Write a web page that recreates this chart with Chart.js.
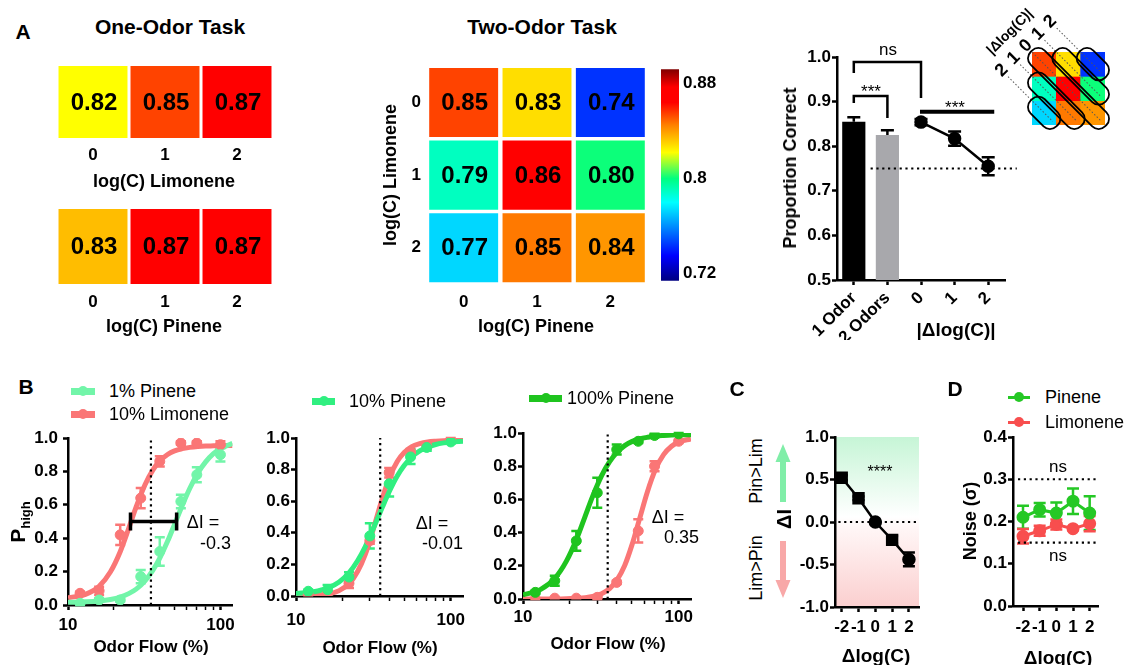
<!DOCTYPE html>
<html>
<head>
<meta charset="utf-8">
<script src="https://cdn.jsdelivr.net/npm/chart.js@4.4.1/dist/chart.umd.min.js"></script>
<style>
  body { margin: 0; background: #fff; }
  #fig { position: relative; width: 1125px; height: 665px; overflow: hidden; background: #fff;
         font-family: 'Liberation Sans', Arial, Helvetica, sans-serif; color: #000; }
  #fig canvas { position: absolute; }
  .t { position: absolute; white-space: nowrap; line-height: 1; transform: translate(-50%, -50%); }
  .b { font-weight: bold; }
  .r90 { transform: translate(-50%, -50%) rotate(-90deg); }
  .ra { transform: translate(-100%, -50%); }
  .la { transform: translate(0, -50%); }
  .key { position: absolute; }
</style>
</head>
<body>
<div id="fig">
  <canvas id="hmLim" width="250" height="120" style="left:40px;top:56px"></canvas>
  <canvas id="hmPin" width="250" height="126" style="left:40px;top:199px"></canvas>
  <canvas id="hmTwo" width="270" height="275" style="left:380px;top:50px"></canvas>
  <canvas id="cbar" width="70" height="240" style="left:655px;top:55px"></canvas>
  <canvas id="pc" width="290" height="305" style="left:735px;top:35px"></canvas>
  <canvas id="inset" width="125" height="135" style="left:985px;top:0px"></canvas>
  <canvas id="b1" width="245" height="245" style="left:0px;top:420px"></canvas>
  <canvas id="b2" width="235" height="245" style="left:240px;top:420px"></canvas>
  <canvas id="b3" width="235" height="250" style="left:470px;top:415px"></canvas>
  <canvas id="cPanel" width="135" height="246" style="left:795px;top:419px"></canvas>
  <canvas id="dPanel" width="135" height="246" style="left:975px;top:419px"></canvas>

  <!-- panel A text -->
  <div class="t b" style="left:23px;top:31px;font-size:21px">A</div>
  <div class="t b" style="left:170px;top:26px;font-size:21px">One-Odor Task</div>
  <div class="t b" style="left:542px;top:26px;font-size:21px">Two-Odor Task</div>
  <div class="t b" style="left:164px;top:181px;font-size:18px">log(C) Limonene</div>
  <div class="t b" style="left:164px;top:326px;font-size:18px">log(C) Pinene</div>
  <div class="t b r90" style="left:390px;top:175px;font-size:18px">log(C) Limonene</div>
  <div class="t b" style="left:536px;top:326px;font-size:18px">log(C) Pinene</div>
  <div class="t b r90" style="left:790px;top:168px;font-size:18px">Proportion Correct</div>
  <div class="t b" style="left:956px;top:329px;font-size:19px">|Δlog(C)|</div>
  <div class="t" style="left:888px;top:49px;font-size:17px">ns</div>
  <div class="t" style="left:871px;top:91px;font-size:17px">***</div>
  <div class="t" style="left:955px;top:107px;font-size:17px">***</div>

  <!-- panel B text -->
  <div class="t b" style="left:26px;top:386px;font-size:21px">B</div>
  <div class="t la" style="left:109px;top:391px;font-size:18px">1% Pinene</div>
  <div class="t la" style="left:109px;top:414px;font-size:18px">10% Limonene</div>
  <div class="t la" style="left:349px;top:401px;font-size:18px">10% Pinene</div>
  <div class="t la" style="left:567px;top:398px;font-size:18px">100% Pinene</div>
  <div class="t b r90" style="left:17px;top:522px;font-size:21px">P<span style="font-size:13px;position:relative;top:5px">high</span></div>
  <div class="t b" style="left:151px;top:646px;font-size:17px">Odor Flow (%)</div>
  <div class="t b" style="left:380px;top:647px;font-size:17px">Odor Flow (%)</div>
  <div class="t b" style="left:608px;top:643px;font-size:17px">Odor Flow (%)</div>
  <div class="t" style="left:203px;top:522px;font-size:18px">ΔI =</div>
  <div class="t ra" style="left:231px;top:543px;font-size:18px">-0.3</div>
  <div class="t" style="left:432px;top:523px;font-size:18px">ΔI =</div>
  <div class="t ra" style="left:463px;top:543px;font-size:18px">-0.01</div>
  <div class="t" style="left:668px;top:517px;font-size:18px">ΔI =</div>
  <div class="t ra" style="left:699px;top:537px;font-size:18px">0.35</div>

  <!-- panel C text -->
  <div class="t b" style="left:737px;top:388px;font-size:21px">C</div>
  <div class="t r90" style="left:756px;top:471px;font-size:18px">Pin&gt;Lim</div>
  <div class="t r90" style="left:756px;top:568px;font-size:18px">Lim&gt;Pin</div>
  <div class="t b r90" style="left:784px;top:519px;font-size:20px">ΔI</div>
  <div class="t" style="left:880px;top:472px;font-size:16px">****</div>
  <div class="t b" style="left:876px;top:655px;font-size:19px">Δlog(C)</div>
  <svg style="position:absolute;left:770px;top:440px" width="30" height="162">
    <polygon points="5.5,22 20.5,22 13,4" fill="#80eea8"/>
    <rect x="10" y="22" width="6" height="40" fill="#80eea8"/>
    <rect x="10" y="101" width="6" height="39" fill="#f8a8a8"/>
    <polygon points="5.5,140 20.5,140 13,158" fill="#f8a8a8"/>
  </svg>

  <!-- panel D text -->
  <div class="t b" style="left:955px;top:388px;font-size:21px">D</div>
  <div class="t la" style="left:1045px;top:397px;font-size:18px">Pinene</div>
  <div class="t la" style="left:1045px;top:422px;font-size:18px">Limonene</div>
  <div class="t b r90" style="left:970px;top:521px;font-size:18px">Noise (σ)</div>
  <div class="t" style="left:1058px;top:466px;font-size:17px">ns</div>
  <div class="t" style="left:1058px;top:555px;font-size:17px">ns</div>
  <div class="t b" style="left:1058px;top:657px;font-size:19px">Δlog(C)</div>
</div>

<script>
// ── A: heat maps (proportion correct per concentration) ──────────────────
var concLabels = ['0', '1', '2'];
var oneOdorLim = [0.822, 0.854, 0.868];
var oneOdorPin = [0.834, 0.869, 0.867];
var twoOdorRow0 = [0.854, 0.828, 0.744];   // log(C) limonene 0, pinene 0..2
var twoOdorRow1 = [0.790, 0.864, 0.801];   // log(C) limonene 1
var twoOdorRow2 = [0.773, 0.846, 0.841];   // log(C) limonene 2
var cbarMin = 0.714, cbarMax = 0.892;
var cbarTicks = [0.72, 0.8, 0.88];
var diagLabels = ['2', '1', '0', '1', '2'];

// ── A: proportion correct bars / |Δlog(C)| ───────────────────────────────
var pcLabels = ['1 Odor', '2 Odors', '0', '1', '2'];
var pcBarMean = [0.855, 0.825];
var pcBarSem = [0.010, 0.011];
var pcDiffMean = [0.854, 0.817, 0.755];
var pcDiffSem = [0.007, 0.016, 0.020];
var pcTicks = [0.5, 0.6, 0.7, 0.8, 0.9, 1.0];
var chanceLevel = 0.75;

// ── B: psychometric curves ───────────────────────────────────────────────
var flowLevels = [12, 16, 22, 30, 40, 55, 70, 100];
var fitFlow = [10, 13, 16, 19, 22, 25, 28, 32, 36, 40, 45, 50, 56, 63, 71, 80, 90, 100, 120];
var flowTicks = [10, 20, 30, 40, 50, 60, 70, 80, 90, 100];
var flowLabelled = [10, 100];
var pTicks = [0, 0.2, 0.4, 0.6, 0.8, 1.0];
var refFlow = 35;

var b1PinMean = [0.01, 0.03, 0.03, 0.17, 0.32, 0.62, 0.78, 0.90];
var b1PinSem  = [0.01, 0.01, 0.01, 0.04, 0.085, 0.04, 0.045, 0.04];
var b1PinFit  = [0.016, 0.019, 0.024, 0.033, 0.047, 0.068, 0.095, 0.145, 0.207, 0.281, 0.381, 0.483, 0.593, 0.699, 0.789, 0.857, 0.906, 0.936, 0.968];
var b1LimMean = [0.07, 0.085, 0.42, 0.64, 0.86, 0.97, 0.97, 0.96];
var b1LimSem  = [0.01, 0.025, 0.06, 0.06, 0.03, 0.01, 0.01, 0.02];
var b1LimFit  = [0.043, 0.064, 0.112, 0.199, 0.319, 0.458, 0.587, 0.720, 0.808, 0.862, 0.901, 0.923, 0.936, 0.944, 0.949, 0.952, 0.953, 0.954, 0.955];
var b1HalfPoints = [25.7, 51.6];
var halfLevel = 0.5;

var b2PinMean = [0.03, 0.04, 0.12, 0.38, 0.71, 0.88, 0.94, 0.975];
var b2PinSem  = [0.01, 0.03, 0.03, 0.08, 0.08, 0.045, 0.02, 0.01];
var b2PinFit  = [0.016, 0.027, 0.050, 0.089, 0.146, 0.223, 0.311, 0.440, 0.558, 0.660, 0.758, 0.826, 0.880, 0.918, 0.943, 0.959, 0.969, 0.975, 0.980];
var b2LimMean = [0.01, 0.02, 0.08, 0.35, 0.78, 0.91, 0.95, 0.99];
var b2LimSem  = [0.005, 0.01, 0.03, 0.02, 0.03, 0.02, 0.02, 0.01];
var b2LimFit  = [0.001, 0.004, 0.012, 0.034, 0.077, 0.155, 0.262, 0.442, 0.613, 0.746, 0.850, 0.908, 0.945, 0.964, 0.975, 0.980, 0.983, 0.984, 0.985];

var b3PinMean = [0.04, 0.11, 0.35, 0.64, 0.90, 0.95, 0.985, 0.995];
var b3PinSem  = [0.01, 0.03, 0.06, 0.09, 0.03, 0.01, 0.01, 0.005];
var b3PinFit  = [0.025, 0.058, 0.124, 0.228, 0.357, 0.495, 0.618, 0.743, 0.827, 0.882, 0.924, 0.948, 0.964, 0.974, 0.981, 0.985, 0.988, 0.989, 0.990];
var b3LimMean = [0.0, 0.005, 0.005, 0.01, 0.10, 0.41, 0.80, 0.95];
var b3LimSem  = [0.0, 0.0, 0.0, 0.01, 0.01, 0.07, 0.03, 0.01];
var b3LimFit  = [0.000, 0.000, 0.000, 0.001, 0.004, 0.008, 0.015, 0.032, 0.062, 0.112, 0.202, 0.323, 0.481, 0.646, 0.781, 0.870, 0.920, 0.945, 0.965];

// ── C: ΔI vs Δlog(C) ─────────────────────────────────────────────────────
var deltaLog = [-2, -1, 0, 1, 2];
var deltaI = [0.52, 0.28, 0.0, -0.21, -0.44];
var deltaISem = [0.03, 0.02, 0.01, 0.045, 0.08];
var deltaITicks = [-1, -0.5, 0, 0.5, 1];

// ── D: noise ─────────────────────────────────────────────────────────────
var noisePin = [0.21, 0.228, 0.22, 0.248, 0.22];
var noisePinSem = [0.027, 0.016, 0.025, 0.03, 0.04];
var noiseLim = [0.165, 0.178, 0.193, 0.183, 0.195];
var noiseLimSem = [0.017, 0.012, 0.012, 0.004, 0.018];
var noiseTicks = [0, 0.1, 0.2, 0.3, 0.4];
var noiseRefs = [0.3, 0.15];

// colours
var colPin1 = '#72f5a9', colLim = '#fa7676', colPin10 = '#30ef80', colPin100 = '#1fc41f';
var colPinD = '#25c825', colLimD = '#f84e4e';
var cmapStops = [
  [0.714, [0, 0, 128]], [0.735, [0, 0, 255]], [0.780, [0, 255, 255]], [0.800, [0, 255, 128]],
  [0.822, [255, 255, 0]], [0.845, [255, 128, 0]], [0.864, [255, 0, 0]], [0.877, [255, 0, 0]],
  [0.892, [128, 0, 0]]
];

var FONT = "'Liberation Sans', Arial, Helvetica, sans-serif";
var TICK_FONT = { size: 17, weight: 'bold' };
Chart.defaults.font.family = FONT;
Chart.defaults.color = '#000';
Chart.defaults.responsive = false;
Chart.defaults.animation = false;
Chart.defaults.events = [];
Chart.defaults.plugins.legend.display = false;
Chart.defaults.plugins.tooltip.enabled = false;

function rgb(c) { return 'rgb(' + Math.round(c[0]) + ',' + Math.round(c[1]) + ',' + Math.round(c[2]) + ')'; }
function cmap(v) {
  var s = cmapStops;
  if (v <= s[0][0]) return rgb(s[0][1]);
  for (var i = 1; i < s.length; i++) {
    if (v <= s[i][0]) {
      var f = (v - s[i - 1][0]) / (s[i][0] - s[i - 1][0]), a = s[i - 1][1], b = s[i][1];
      return rgb([a[0] + (b[0] - a[0]) * f, a[1] + (b[1] - a[1]) * f, a[2] + (b[2] - a[2]) * f]);
    }
  }
  return rgb(s[s.length - 1][1]);
}

// axis builder: GraphPad-style (line + outward ticks) or bare (labels only)
function axis(o) {
  return {
    type: o.type || 'linear',
    position: o.position,
    min: o.min, max: o.max, reverse: !!o.reverse,
    afterBuildTicks: function(s) { if (o.values) s.ticks = o.values.map(function(v) { return { value: v }; }); },
    afterFit: function(s) { if (o.width) s.width = o.width; if (o.height) s.height = o.height; },
    grid: o.bare ? { display: false, drawTicks: false } : {
      drawOnChartArea: false, offset: false, tickLength: 5, tickColor: '#000',
      tickWidth: o.minor ? function(c) { return o.minor.indexOf(c.tick.value) >= 0 ? 2.5 : 1.5; } : 2.5
    },
    border: o.bare ? { display: false } : { color: '#000', width: 2.5 },
    ticks: { color: '#000', font: TICK_FONT, padding: o.pad, autoSkip: false,
             maxRotation: o.rot || 0, minRotation: o.rot || 0, callback: o.fmt }
  };
}
function fixed1(v) { return v.toFixed(1); }

// ── plugins ──────────────────────────────────────────────────────────────
var errorBarPlugin = {
  id: 'errorBars',
  beforeDatasetsDraw: function(chart) {
    var ctx = chart.ctx;
    chart.data.datasets.forEach(function(ds, i) {
      if (!ds.errorBars) return;
      var meta = chart.getDatasetMeta(i), ys = chart.scales[meta.yAxisID];
      var cap = ds.capWidth || 10;
      ctx.save();
      ctx.strokeStyle = ds.errorColor || ds.borderColor;
      ctx.lineWidth = 2.5;
      meta.data.forEach(function(el, j) {
        var e = ds.errorBars[j], p = meta.controller.getParsed(j);
        if (e == null || !p || p.y == null || isNaN(p.y)) return;
        var top = ys.getPixelForValue(p.y + e);
        var bot = ds.errorUpOnly ? el.y : ys.getPixelForValue(p.y - e);
        ctx.beginPath();
        ctx.moveTo(el.x, top); ctx.lineTo(el.x, bot);
        ctx.moveTo(el.x - cap / 2, top); ctx.lineTo(el.x + cap / 2, top);
        if (!ds.errorUpOnly) { ctx.moveTo(el.x - cap / 2, bot); ctx.lineTo(el.x + cap / 2, bot); }
        ctx.stroke();
      });
      ctx.restore();
    });
  }
};

var refLinePlugin = {
  id: 'refLines',
  afterDatasetsDraw: function(chart, args, opts) {
    var lines = opts.lines || [];
    if (!lines.length) return;
    var ctx = chart.ctx, xs = chart.scales.x, ys = chart.scales.y, a = chart.chartArea;
    ctx.save();
    ctx.strokeStyle = '#000'; ctx.lineWidth = 2.2; ctx.setLineDash([2.2, 3.6]);
    for (var i = 0; i < lines.length; i++) {
      var l = lines[i];
      ctx.beginPath();
      if (l.axis === 'x') {
        var px = xs.getPixelForValue(l.value);
        ctx.moveTo(px, a.bottom); ctx.lineTo(px, a.top);
      } else {
        var py = ys.getPixelForValue(l.value);
        ctx.moveTo(l.from != null ? xs.getPixelForValue(l.from) : a.left, py);
        ctx.lineTo(l.to != null ? xs.getPixelForValue(l.to) : a.right, py);
      }
      ctx.stroke();
    }
    ctx.restore();
  }
};

var cellTextPlugin = {
  id: 'cellText',
  afterDatasetsDraw: function(chart) {
    var ctx = chart.ctx;
    chart.data.datasets.forEach(function(ds, i) {
      if (!ds.cellValues) return;
      var meta = chart.getDatasetMeta(i);
      ctx.save();
      ctx.fillStyle = '#000'; ctx.font = 'bold 24px ' + FONT;
      ctx.textAlign = 'center'; ctx.textBaseline = 'middle';
      meta.data.forEach(function(el, j) {
        ctx.fillText(ds.cellValues[j].toFixed(2), el.x + 1, (el.y + el.base) / 2 + 1);
      });
      ctx.restore();
    });
  }
};
Chart.register(errorBarPlugin, refLinePlugin, cellTextPlugin);

// ── A: one-odor heat maps ────────────────────────────────────────────────
function oneRowHeat(id, values, xh, pad) {
  return new Chart(document.getElementById(id), {
    type: 'bar',
    data: {
      labels: concLabels,
      datasets: [{ data: values.map(function() { return [0, 1]; }), cellValues: values,
                   backgroundColor: values.map(cmap), barPercentage: 0.958, categoryPercentage: 1 }]
    },
    options: {
      layout: { padding: { left: 17, right: 17, top: 10, bottom: 0 } },
      scales: {
        x: axis({ type: 'category', bare: true, pad: pad, height: xh, fmt: function(v) { return concLabels[v]; } }),
        y: { display: false, min: 0, max: 1 }
      }
    }
  });
}
oneRowHeat('hmLim', oneOdorLim, 38, 7);
oneRowHeat('hmPin', oneOdorPin, 41, 8);

// ── A: two-odor heat map ─────────────────────────────────────────────────
var twoRows = [twoOdorRow0, twoOdorRow1, twoOdorRow2];
new Chart(document.getElementById('hmTwo'), {
  type: 'bar',
  data: {
    labels: concLabels,
    datasets: twoRows.map(function(row, r) {
      return { data: row.map(function() { return [r - 0.476, r + 0.476]; }), cellValues: row,
               backgroundColor: row.map(cmap), barPercentage: 0.94, categoryPercentage: 1, grouped: false };
    })
  },
  options: {
    layout: { padding: { top: 14, right: 3 } },
    scales: {
      x: axis({ type: 'category', bare: true, pad: 8, height: 41, fmt: function(v) { return concLabels[v]; } }),
      y: axis({ bare: true, min: -0.5, max: 2.5, reverse: true, values: [0, 1, 2], pad: 6, width: 47,
                fmt: function(v) { return concLabels[v]; } })
    }
  }
});

// ── A: colour bar ────────────────────────────────────────────────────────
new Chart(document.getElementById('cbar'), {
  type: 'bar',
  data: {
    labels: [''],
    datasets: [{
      data: [[cbarMin, cbarMax]], barPercentage: 1, categoryPercentage: 1,
      backgroundColor: function(c) {
        var a = c.chart.chartArea;
        if (!a) return '#fff';
        var g = c.chart.ctx.createLinearGradient(0, a.bottom, 0, a.top);
        cmapStops.forEach(function(s) {
          g.addColorStop(Math.min(1, Math.max(0, (s[0] - cbarMin) / (cbarMax - cbarMin))), rgb(s[1]));
        });
        return g;
      }
    }]
  },
  options: {
    layout: { padding: { left: 6, top: 13, bottom: 11 } },
    scales: {
      x: { display: false },
      y: axis({ bare: true, position: 'right', min: cbarMin, max: cbarMax, values: cbarTicks, pad: 4, width: 46,
                fmt: function(v) { return String(v); } })
    }
  }
});

// ── A: proportion correct ────────────────────────────────────────────────
var pcBracketPlugin = {
  id: 'pcBrackets',
  afterDatasetsDraw: function(chart) {
    var x = chart.scales.x, y = chart.scales.y, ctx = chart.ctx;
    function path(pts, w) {
      ctx.lineWidth = w; ctx.beginPath();
      pts.forEach(function(p, i) {
        var px = x.getPixelForValue(p[0]), py = y.getPixelForValue(p[1]);
        if (i) ctx.lineTo(px, py); else ctx.moveTo(px, py);
      });
      ctx.stroke();
    }
    ctx.save(); ctx.strokeStyle = '#000';
    path([[0, 0.964], [0, 0.989], [2, 0.989], [2, 0.908]], 2.5);
    path([[0, 0.897], [0, 0.9125], [1, 0.9125], [1, 0.863]], 2.5);
    path([[1.97, 0.877], [4.18, 0.877]], 4);
    ctx.restore();
  }
};
new Chart(document.getElementById('pc'), {
  type: 'bar',
  data: {
    labels: pcLabels,
    datasets: [
      { type: 'line', data: [null, null].concat(pcDiffMean), borderColor: '#000', borderWidth: 2.5,
        pointRadius: 5.5, pointBackgroundColor: '#000', pointBorderColor: '#000',
        errorBars: [null, null].concat(pcDiffSem), errorColor: '#000', capWidth: 13 },
      { type: 'bar', data: pcBarMean.map(function(m) { return [pcTicks[0], m]; }),
        backgroundColor: ['#000000', '#a8a8ac'], barPercentage: 0.69, categoryPercentage: 1,
        errorBars: pcBarSem, errorUpOnly: true, errorColor: '#000', capWidth: 13 }
    ]
  },
  options: {
    layout: { padding: { top: 22, right: 20 } },
    scales: {
      x: axis({ type: 'category', rot: 45, pad: 3, height: 60, fmt: function(v) { return pcLabels[v]; } }),
      y: axis({ min: 0.5, max: 1.0, values: pcTicks, fmt: fixed1, pad: 1, width: 102 })
    },
    plugins: { refLines: { lines: [{ axis: 'y', value: chanceLevel, from: 0.5, to: 4.85 }] } }
  },
  plugins: [pcBracketPlugin]
});

// ── A: inset (diagonals of the two-odor grid) ────────────────────────────
var insetPlugin = {
  id: 'diagOutlines',
  afterDatasetsDraw: function(chart) {
    var ctx = chart.ctx, xs = chart.scales.x, ys = chart.scales.y, a = chart.chartArea;
    var cell = xs.getPixelForValue(1) - xs.getPixelForValue(0);
    var ext = cell * Math.SQRT1_2 + 1;
    var labelSum = a.left + a.top - 12;
    diagLabels.forEach(function(lab, idx) {
      var k = idx - 2, n = 3 - Math.abs(k);
      var x0 = xs.getPixelForValue(Math.max(k, 0)), y0 = ys.getPixelForValue(Math.max(-k, 0));
      var cx = x0 + (n - 1) * cell / 2, cy = y0 + (n - 1) * cell / 2;
      var half = (n - 1) * cell * Math.SQRT2 / 2 + ext;
      var lx = (labelSum - cx - cy) / Math.SQRT2;
      ctx.save();
      ctx.translate(cx, cy); ctx.rotate(Math.PI / 4);
      ctx.strokeStyle = '#555'; ctx.lineWidth = 1; ctx.setLineDash([1.5, 2]);
      ctx.beginPath(); ctx.moveTo(lx + 9, 0); ctx.lineTo(half - 6, 0); ctx.stroke();
      ctx.setLineDash([]); ctx.strokeStyle = '#000'; ctx.lineWidth = 1.8;
      ctx.beginPath(); ctx.roundRect(-half, -10, 2 * half, 20, 9); ctx.stroke();
      ctx.rotate(-Math.PI / 2);
      ctx.fillStyle = '#000'; ctx.font = 'bold 18px ' + FONT;
      ctx.textAlign = 'center'; ctx.textBaseline = 'middle';
      ctx.fillText(lab, 0, lx);
      ctx.restore();
    });
    ctx.save();
    ctx.translate(a.left - 22, a.top - 20); ctx.rotate(-Math.PI / 4);
    ctx.fillStyle = '#000'; ctx.font = 'bold 14px ' + FONT;
    ctx.textAlign = 'center'; ctx.textBaseline = 'middle';
    ctx.fillText('|Δlog(C)|', 0, 0);
    ctx.restore();
  }
};
new Chart(document.getElementById('inset'), {
  type: 'bar',
  data: {
    labels: concLabels,
    datasets: twoRows.map(function(row, r) {
      return { data: row.map(function() { return [r - 0.5, r + 0.5]; }), backgroundColor: row.map(cmap),
               barPercentage: 1, categoryPercentage: 1, grouped: false };
    })
  },
  options: {
    layout: { padding: { left: 47, top: 52, right: 5, bottom: 10 } },
    scales: { x: { display: false }, y: { display: false, min: -0.5, max: 2.5, reverse: true } }
  },
  plugins: [insetPlugin]
});

// ── B: psychometric panels ───────────────────────────────────────────────
function flowChart(id, box, series, extra) {
  var datasets = [];
  series.forEach(function(s, i) {
    datasets.push({ data: fitFlow.map(function(x, j) { return { x: x, y: s.fit[j] }; }), order: 20 - i,
      showLine: true, borderColor: s.color, borderWidth: 5, pointRadius: 0, cubicInterpolationMode: 'monotone' });
    datasets.push({ data: flowLevels.map(function(x, j) { return { x: x, y: s.mean[j] }; }), order: 10 - i,
      pointRadius: 5, pointBackgroundColor: s.color, pointBorderColor: s.color, borderColor: s.color,
      errorBars: s.sem, capWidth: 10 });
  });
  return new Chart(document.getElementById(id), {
    type: 'scatter',
    data: { datasets: datasets.concat(extra || []) },
    options: {
      layout: { padding: { top: box.top, right: box.right } },
      scales: {
        x: axis({ type: 'logarithmic', min: 10, max: 120, values: flowTicks, minor: flowLabelled,
                  fmt: function(v) { return flowLabelled.indexOf(v) >= 0 ? String(v) : ''; },
                  pad: box.xPad, height: box.xh }),
        y: axis({ min: 0, max: 1, values: pTicks, fmt: fixed1, pad: box.yPad, width: box.yw })
      },
      plugins: { refLines: { lines: [{ axis: 'x', value: refFlow }] } }
    }
  });
}

flowChart('b1', { top: 18, right: 10, yw: 68, xh: 60, xPad: 5, yPad: 5 }, [
  { mean: b1LimMean, sem: b1LimSem, fit: b1LimFit, color: colLim },
  { mean: b1PinMean, sem: b1PinSem, fit: b1PinFit, color: colPin1 }
], [{
  data: b1HalfPoints.map(function(x) { return { x: x, y: halfLevel }; }), order: 0, showLine: true,
  borderColor: '#000', borderWidth: 3.5, pointStyle: 'line', rotation: 90, pointRadius: 9,
  pointBorderWidth: 3.5, pointBorderColor: '#000'
}]);
flowChart('b2', { top: 18, right: 12, yw: 56, xh: 69, xPad: 9, yPad: 1 }, [
  { mean: b2LimMean, sem: b2LimSem, fit: b2LimFit, color: colLim },
  { mean: b2PinMean, sem: b2PinSem, fit: b2PinFit, color: colPin10 }
]);
flowChart('b3', { top: 18, right: 14, yw: 53, xh: 66, xPad: 3, yPad: 1 }, [
  { mean: b3LimMean, sem: b3LimSem, fit: b3LimFit, color: colLim },
  { mean: b3PinMean, sem: b3PinSem, fit: b3PinFit, color: colPin100 }
]);

// ── C: ΔI ────────────────────────────────────────────────────────────────
var cBackground = {
  id: 'cBackground',
  beforeDraw: function(chart) {
    var a = chart.chartArea, ctx = chart.ctx;
    var g = ctx.createLinearGradient(0, a.top, 0, a.bottom);
    g.addColorStop(0, '#c6f5d6'); g.addColorStop(0.47, '#ffffff');
    g.addColorStop(0.53, '#fff7f7'); g.addColorStop(1, '#fbcfcf');
    ctx.save(); ctx.fillStyle = g; ctx.fillRect(a.left, a.top, a.right - a.left, a.bottom - a.top); ctx.restore();
  }
};
new Chart(document.getElementById('cPanel'), {
  type: 'scatter',
  data: {
    datasets: [{
      data: deltaLog.map(function(x, i) { return { x: x, y: deltaI[i] }; }),
      showLine: true, borderColor: '#000', borderWidth: 2.5,
      pointStyle: ['rect', 'rect', 'circle', 'rect', 'circle'], pointRadius: [7, 7, 5.5, 7, 5.5],
      pointBackgroundColor: '#000', pointBorderColor: '#000',
      errorBars: deltaISem, errorColor: '#000', capWidth: 12
    }]
  },
  options: {
    layout: { padding: { top: 18, right: 11 } },
    scales: {
      x: axis({ min: -2.4, max: 2.6, values: deltaLog, fmt: function(v) { return String(v); }, pad: 5, height: 58 }),
      y: axis({ min: -1, max: 1, values: deltaITicks, fmt: fixed1, pad: 1, width: 40 })
    },
    plugins: { refLines: { lines: [{ axis: 'y', value: 0, from: -2.2, to: 2.55 }] } }
  },
  plugins: [cBackground]
});

// ── D: noise ─────────────────────────────────────────────────────────────
new Chart(document.getElementById('dPanel'), {
  type: 'scatter',
  data: {
    datasets: [
      { data: deltaLog.map(function(x, i) { return { x: x, y: noisePin[i] }; }), showLine: true,
        borderColor: colPinD, borderWidth: 3, pointRadius: 5, pointBackgroundColor: colPinD,
        pointBorderColor: colPinD, errorBars: noisePinSem, capWidth: 12 },
      { data: deltaLog.map(function(x, i) { return { x: x, y: noiseLim[i] }; }), showLine: true,
        borderColor: colLimD, borderWidth: 3, pointRadius: 5, pointBackgroundColor: colLimD,
        pointBorderColor: colLimD, errorBars: noiseLimSem, capWidth: 12 }
    ]
  },
  options: {
    layout: { padding: { top: 18, right: 12 } },
    scales: {
      x: axis({ min: -2.6, max: 2.5, values: deltaLog, fmt: function(v) { return String(v); }, pad: 6, height: 59 }),
      y: axis({ min: 0, max: 0.4, values: noiseTicks, fmt: fixed1, pad: 1, width: 38 })
    },
    plugins: { refLines: { lines: noiseRefs.map(function(v) { return { axis: 'y', value: v, from: -2.3, to: 2.45 }; }) } }
  }
});

// ── legend keys (line + dot) ─────────────────────────────────────────────
function legendKey(x0, x1, y, color, thick) {
  var fig = document.getElementById('fig');
  var line = document.createElement('div');
  line.className = 'key';
  line.style.cssText = 'left:' + x0 + 'px;top:' + (y - thick / 2) + 'px;width:' + (x1 - x0) +
    'px;height:' + thick + 'px;background:' + color;
  var dot = document.createElement('div');
  dot.className = 'key';
  dot.style.cssText = 'left:' + ((x0 + x1) / 2 - 5) + 'px;top:' + (y - 5) +
    'px;width:10px;height:10px;border-radius:50%;background:' + color;
  fig.appendChild(line); fig.appendChild(dot);
}
legendKey(71, 95, 391, colPin1, 7);
legendKey(71, 95, 414, colLim, 7);
legendKey(312, 335, 401, colPin10, 7);
legendKey(529, 562, 398, colPin100, 7);
legendKey(1008, 1030, 397, colPinD, 3);
legendKey(1008, 1030, 422, colLimD, 3);
</script>
</body>
</html>
